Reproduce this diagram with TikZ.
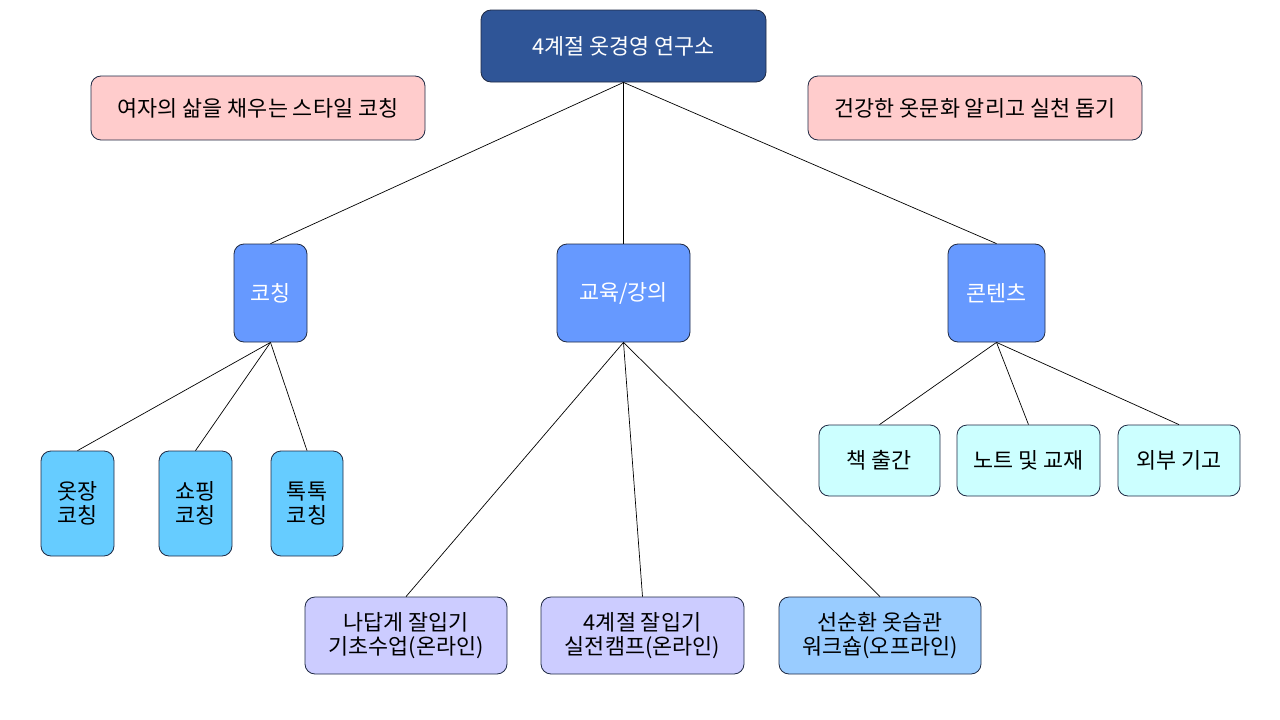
\documentclass[tikz,border=0pt]{standalone}
\usepackage{fontspec}
\setmainfont{Noto Sans CJK KR}
\definecolor{rootfill}{HTML}{2F5597}
\definecolor{pinkfill}{HTML}{FFCCCC}
\definecolor{midfill}{HTML}{6699FF}
\definecolor{skyfill}{HTML}{66CCFF}
\definecolor{cyanfill}{HTML}{CCFFFF}
\definecolor{lavfill}{HTML}{CCCCFF}
\definecolor{lbluefill}{HTML}{99CCFF}
\definecolor{edgecol}{HTML}{1F2A44}
\begin{document}
\begin{tikzpicture}[x=1pt,y=-1pt,
  box/.style={draw=edgecol,line width=0.8pt,rounded corners=10pt,align=center,inner sep=0pt,
    font=\fontsize{21.8}{24.5}\selectfont},
  conn/.style={draw=black,line width=0.7pt}]
\useasboundingbox (0,0) rectangle (1280,720);
\fill[white] (0,0) rectangle (1280,720);
\node[box,fill=rootfill,text=white,minimum width=285pt,minimum height=72pt] (root) at (623.5,46) {4계절 옷경영 연구소};
\node[box,fill=pinkfill,minimum width=334pt,minimum height=64pt] (pl) at (258,108) {여자의 삶을 채우는 스타일 코칭};
\node[box,fill=pinkfill,minimum width=334pt,minimum height=64pt] (pr) at (975,108) {건강한 옷문화 알리고 실천 돕기};
\node[box,fill=midfill,text=white,minimum width=73pt,minimum height=98pt] (coach) at (270.5,293) {코칭};
\node[box,fill=midfill,text=white,minimum width=133pt,minimum height=98pt] (edu) at (623.5,293) {교육/강의};
\node[box,fill=midfill,text=white,minimum width=97pt,minimum height=98pt] (cont) at (996.5,293) {콘텐츠};
\node[box,fill=skyfill,minimum width=73pt,minimum height=105pt] (c1) at (77.5,503.5) {옷장\\코칭};
\node[box,fill=skyfill,minimum width=73pt,minimum height=105pt] (c2) at (195.5,503.5) {쇼핑\\코칭};
\node[box,fill=skyfill,minimum width=72pt,minimum height=105pt] (c3) at (307,503.5) {톡톡\\코칭};
\node[box,fill=cyanfill,minimum width=121pt,minimum height=71pt] (t1) at (879.5,460.5) {책 출간};
\node[box,fill=cyanfill,minimum width=143pt,minimum height=71pt] (t2) at (1028.5,460.5) {노트 및 교재};
\node[box,fill=cyanfill,minimum width=122pt,minimum height=71pt] (t3) at (1179,460.5) {외부 기고};
\node[box,fill=lavfill,minimum width=202pt,minimum height=77pt] (e1) at (406,635.5) {나답게 잘입기\\기초수업(온라인)};
\node[box,fill=lavfill,minimum width=203pt,minimum height=77pt] (e2) at (642.5,635.5) {4계절 잘입기\\실전캠프(온라인)};
\node[box,fill=lbluefill,minimum width=202pt,minimum height=77pt] (e3) at (880,635.5) {선순환 옷습관\\워크숍(오프라인)};
\draw[conn] (root.south) -- (coach.north);
\draw[conn] (root.south) -- (edu.north);
\draw[conn] (root.south) -- (cont.north);
\draw[conn] (coach.south) -- (c1.north);
\draw[conn] (coach.south) -- (c2.north);
\draw[conn] (coach.south) -- (c3.north);
\draw[conn] (edu.south) -- (e1.north);
\draw[conn] (edu.south) -- (e2.north);
\draw[conn] (edu.south) -- (e3.north);
\draw[conn] (cont.south) -- (t1.north);
\draw[conn] (cont.south) -- (t2.north);
\draw[conn] (cont.south) -- (t3.north);
\end{tikzpicture}
\end{document}
